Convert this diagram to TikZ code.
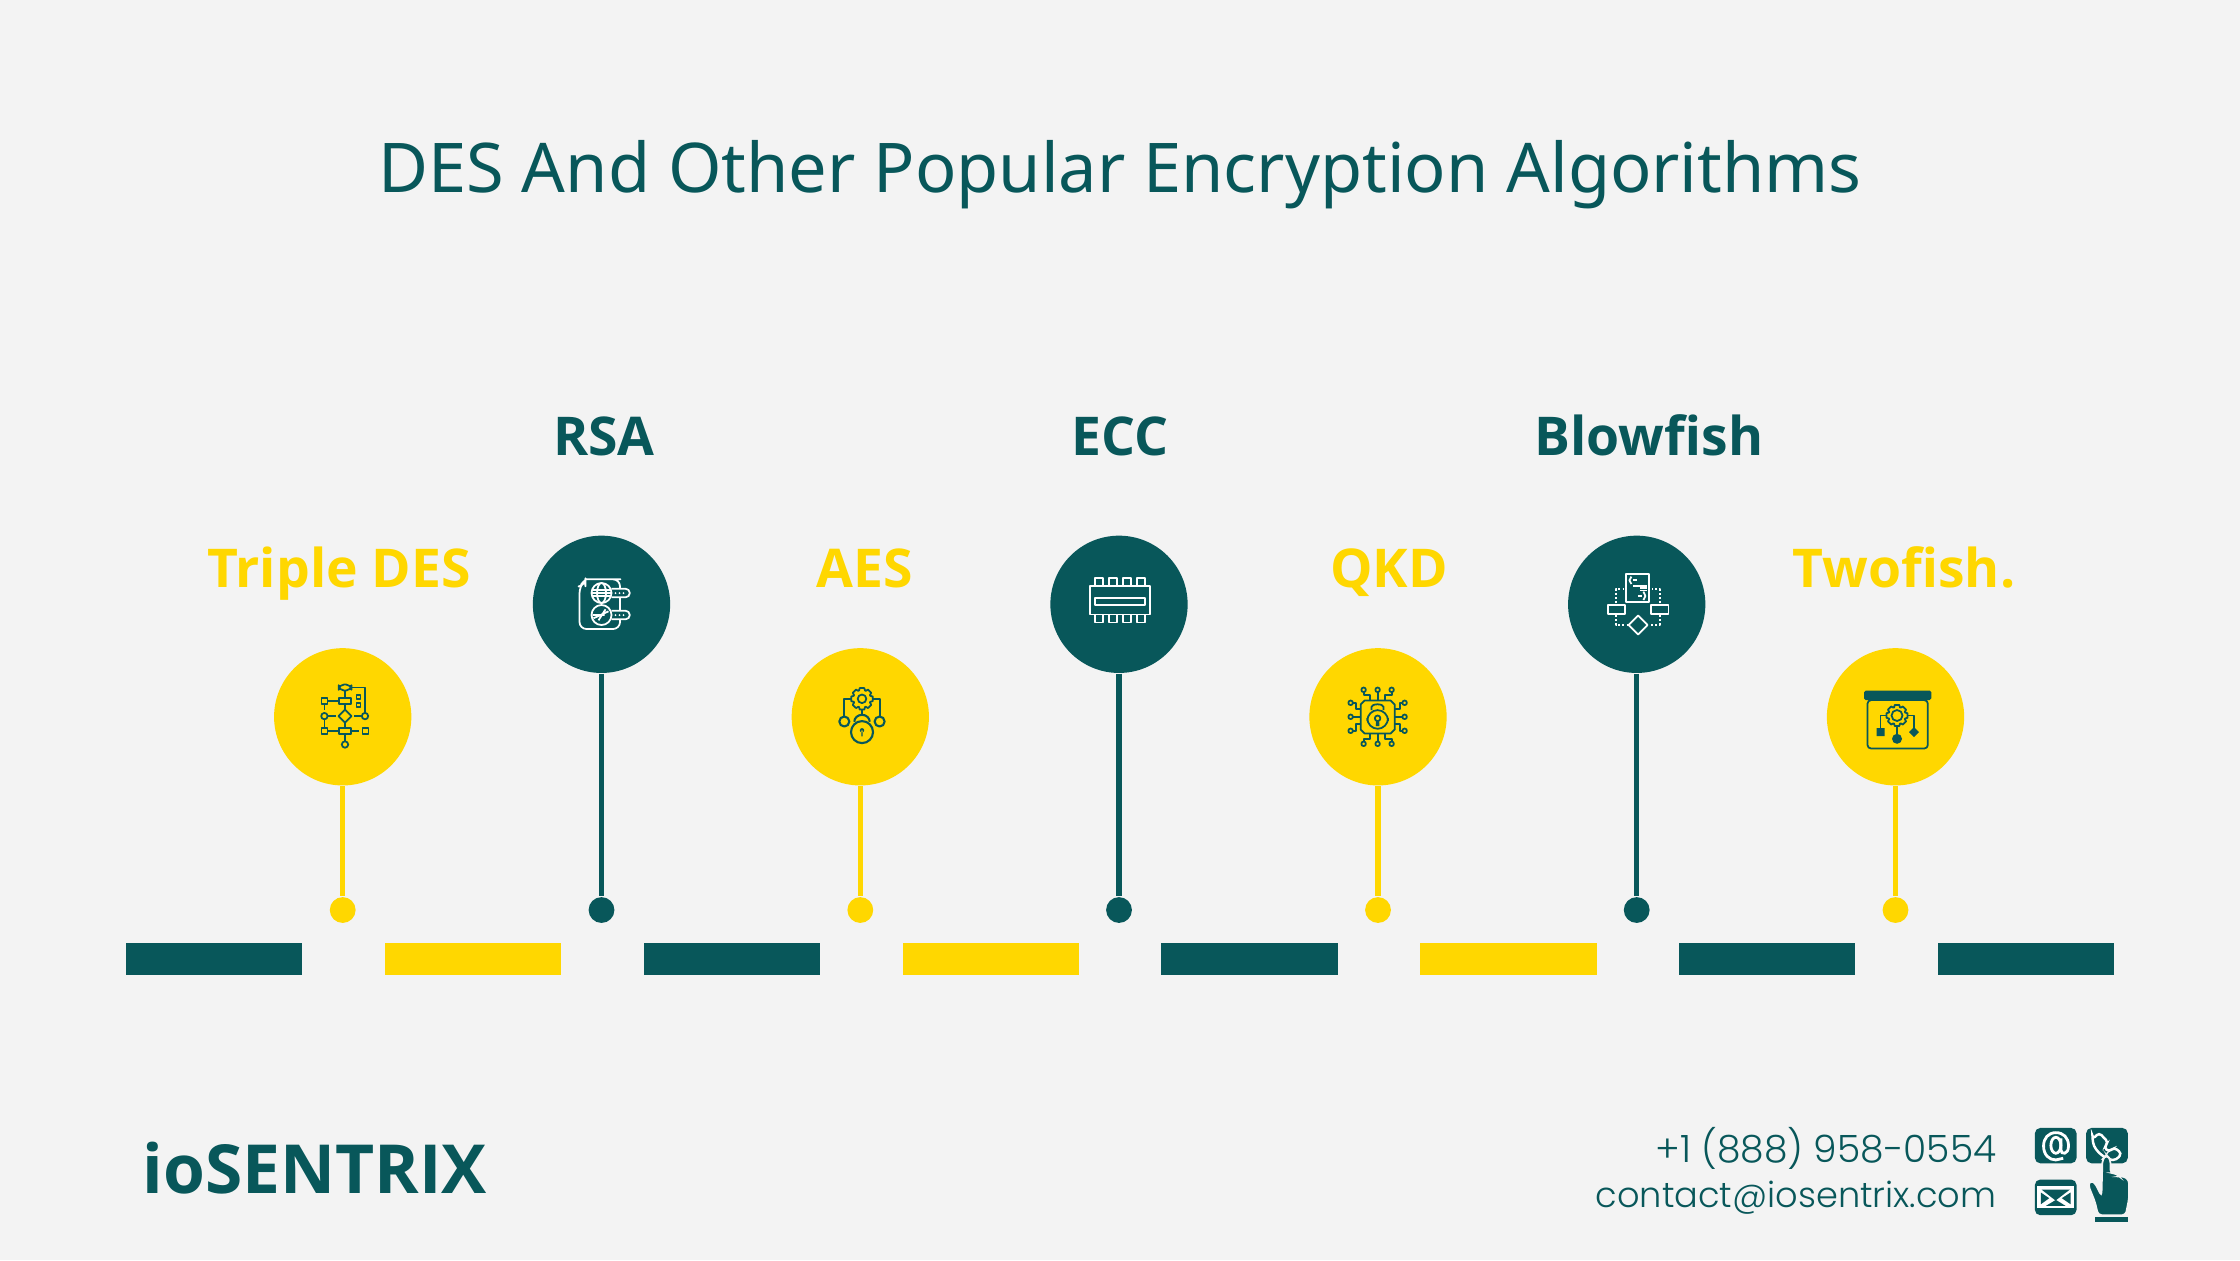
\documentclass[tikz,border=0pt]{standalone}
\usepackage{fontspec}
\setmainfont{Noto Sans}
\newfontfamily\labelfont{Open Sans}
\newfontfamily\contactfont{Poppins}[UprightFont=* Light]
\usetikzlibrary{positioning}

\definecolor{tealc}{HTML}{08575A}
\definecolor{yellowc}{HTML}{FFD700}
\definecolor{pagec}{HTML}{F3F3F3}

\newcommand{\gearat}[5]{% x, y, outer radius, inner radius, colour
  \begin{scope}[shift={(#1,#2)}]
    \draw[iconline,draw=#5] (-12:#3) \foreach \a in {0,45,...,315} {-- (\a-12:#3) -- (\a+12:#3) -- (\a+20:#3*0.8) -- (\a+25:#3*0.8)} -- cycle;
    \draw[iconline,draw=#5] (0,0) circle (#4);
  \end{scope}}

\tikzset{
  spot/.style={circle,inner sep=0pt,minimum size=13.72mm},
  dot/.style={circle,inner sep=0pt,minimum size=2.58mm},
  bar/.style={rectangle,inner sep=0pt,minimum width=17.6mm,minimum height=3.15mm},
  stem/.style={line width=1.45pt},
  iconline/.style={line width=0.5pt,line join=round},
  pics/flowicon/.style={code={
    \begin{scope}[iconline,draw=tealc]
    \draw[rounded corners=1.5] (-4,-32.3) rectangle (8.7,-26.3);
    \foreach \x/\y in {-4/-19, -4/11.3} \draw (\x,\y) rectangle +(12.6,6);
    \foreach \x/\y in {-21.3/-19, -21.3/11.3, 19.7/11.3} \draw (\x,\y) rectangle +(6,6);
    \foreach \y in {-22,-14} \draw (13.7,\y) rectangle +(4,4);
    \foreach \x/\y in {22.3/-0.7, -18.3/-0.7, 2.3/27.7} \draw (\x,\y) circle (3.2);
    \draw (2.3,-7.2) -- (8.8,-0.7) -- (2.3,5.8) -- (-4.2,-0.7) -- cycle;
    \draw (8.7,-29.3) -- (22.3,-29.3) -- (22.3,-3.9);
    \draw (19.1,-0.7) -- (11.7,-0.7);
    \draw (-15.1,-0.7) -- (-7,-0.7);
    \draw (-15.3,-16) -- (-4,-16) (-18.3,-13) -- (-18.3,-7);
    \draw (-18.3,2.5) -- (-18.3,11.3) (-15.3,14.3) -- (-4,14.3);
    \draw (8.6,14.3) -- (16.3,14.3);
    \draw (2.3,-26.3) -- (2.3,-19) (2.3,-13) -- (2.3,-7.2) (2.3,5.8) -- (2.3,11.3) (2.3,17.3) -- (2.3,24.5);
    \end{scope}}},
  pics/keyicon/.style={code={
    \begin{scope}[iconline,draw=white]
    \draw[rounded corners=2] (-16,-25) -- (12,-25) -- (18.5,-25) -- (18.5,24.7) -- (-22,24.7) -- (-22,-18) -- (-16,-25) -- (-16,-19) -- (-22,-18);
    \foreach \y in {-11.3,10.7} {
      \draw[fill=tealc] (10,\y-4.3) -- (24,\y-4.3) arc (-90:90:4.3) -- (10,\y+4.3);
      \foreach \x in {14,18,22} \fill[white] (\x,\y) circle (1);
      \draw[fill=tealc] (0,\y) circle (10);
    }
    \draw (0,-11.3) ellipse (4.5 and 10);
    \draw (-9.5,-14.5) -- (9.5,-14.5) (-9.5,-8) -- (9.5,-8) (-10,-11.3) -- (10,-11.3);
    \draw (-8,14) -- (7,7) (-9,10.7) -- (3,10.7) (-3,16) -- (4,5);
    \end{scope}}},
  pics/gearlockicon/.style={code={
    \gearat{1.7}{-18}{11}{4.3}{tealc}
    \begin{scope}[iconline,draw=tealc,line width=0.6pt]
    \draw (-16,0) -- (-16,-18) -- (-9.3,-18) (19.3,0) -- (19.3,-18) -- (12.7,-18);
    \foreach \x in {-16,19.3} \draw (\x,4.7) circle (5);
    \draw (1.7,-7) -- (1.7,-2);
    \draw (1.7,15.3) circle (11);
    \draw (-6,5) arc (180:360:7.7 and 7);
    \fill[tealc] (1.7,13.5) circle (2.2) (1,13.5) rectangle (2.4,19.5);
    \end{scope}}},
  pics/chipicon/.style={code={
    \begin{scope}[iconline,draw=white]
    \draw (-28.7,-18) rectangle (30.7,10.3);
    \draw (-24.3,-6.3) rectangle (26.3,1);
    \foreach \x in {-24,-10.3,3.7,17.7} \draw (\x,-18) -- (\x,-26) -- (\x+8.3,-26) -- (\x+8.3,-18) (\x,10.3) -- (\x,18.3) -- (\x+8.3,18.3) -- (\x+8.3,10.3);
    \end{scope}}},
  pics/cpulockicon/.style={code={
    \begin{scope}[iconline,draw=tealc]
    \draw (-13.3,-16.3) -- (12.7,-16.3) -- (16.7,-12.3) -- (16.7,12.7) -- (12.7,16.7) -- (-13.3,16.7) -- (-17.3,12.7) -- (-17.3,-12.3) -- cycle;
    \draw[rounded corners=3] (-10.7,-6.7) rectangle (10,12);
    \draw (-6.5,-6.7) -- (-6.5,-10) arc (180:360:6 and 2.5) -- (5.5,-6.7);
    \draw (-0.4,1.5) circle (2.8) (-1,4.3) -- (-1.4,8.5) -- (0.6,8.5) -- (0.2,4.3);
    \foreach \a in {0,90,180,270} {
      \begin{scope}[shift={(-0.4,0)},rotate=\a]
      \draw (0,-16.5) -- (0,-24.5);
      \draw (0,-27) circle (2.3);
      \draw (-7.5,-16.5) -- (-7.5,-22) -- (-14,-22) -- (-14,-24.7);
      \draw (-14,-27) circle (2.3);
      \draw (7.5,-16.5) -- (7.5,-22) -- (14,-22) -- (14,-24.7);
      \draw (14,-27) circle (2.3);
      \end{scope}
    }
    \end{scope}}},
  pics/codeflowicon/.style={code={
    \begin{scope}[iconline,draw=white]
    \draw[line width=0.6pt] (-10.3,-30.7) rectangle (12.7,-2.3);
    \draw (-5.3,-27.7) -- (-7.3,-24) -- (-5.3,-20.3) (6.7,-12.7) -- (8.7,-8.3) -- (6.7,-4.3);
    \draw (-3.3,-24.3) -- (0,-24.3) (-3.3,-18.3) -- (10,-18.3) (3.3,-16) -- (10,-16) (3.3,-13.7) -- (10,-13.7) (1.7,-8.3) -- (5,-8.3);
    \draw (-29,1) rectangle (-12,10) (14.3,1) rectangle (31.7,10);
    \draw (1.3,11.2) -- (10.8,20.7) -- (1.3,30.2) -- (-8.2,20.7) -- cycle;
    \draw[dash pattern=on 0.6pt off 0.6pt] (-21,-1) -- (-21,-15.3) -- (-12.7,-15.3) (23,-1) -- (23,-15.3) -- (15,-15.3) (-21,10.7) -- (-21,21) -- (-9.3,21) (23,10.7) -- (23,21) -- (12.7,21);
    \end{scope}}},
  pics/boardicon/.style={code={
    \fill[tealc,rounded corners=0.5] (-31.5,-26.3) rectangle (35.8,-16.7);
    \draw[iconline,tealc,rounded corners=1] (-28,-16.7) rectangle (32.3,31.7);
    \gearat{1.5}{-1.3}{10.8}{5.5}{tealc}
    \draw[iconline,tealc] (-8.8,-1.3) -- (-15,-1.3) -- (-15,11.3) (12.2,-1.3) -- (18.5,-1.3) -- (18.5,11.3) (1.5,9.7) -- (1.5,17);
    \fill[tealc] (-19,11.3) rectangle (-11,19.3) (1.5,22) circle (5) (18.5,10.3) -- (23.5,15.3) -- (18.5,20.3) -- (13.5,15.3) -- cycle;
    }},
}

\begin{document}
\begin{tikzpicture}[x=0.01cm,y=-0.01cm]
\fill[pagec] (0,0) rectangle (2240,1260);
\useasboundingbox (0,0) rectangle (2240,1260);
%\draw[help lines,step=100] (0,0) grid (2240,1260);

\node[text=tealc,anchor=base,font=\fontsize{19.5}{23}\selectfont] (title) at (1120,192) {DES And Other Popular Encryption Algorithms};

\foreach \x/\c/\n in {126/tealc/b1, 385/yellowc/b2, 644/tealc/b3, 903/yellowc/b4, 1161.5/tealc/b5, 1420.5/yellowc/b6, 1679/tealc/b7, 1938/tealc/b8}
  \node[bar,fill=\c] (\n) at (\x+88,959) {};

\foreach \x/\y/\c/\n in {342.7/716.8/yellowc/des, 601.5/604.3/tealc/rsa, 860.3/716.8/yellowc/aes, 1119/604.3/tealc/ecc, 1378/716.8/yellowc/qkd, 1636.7/604.3/tealc/blow, 1895.5/716.8/yellowc/two}
{
  \node[spot,fill=\c] (\n) at (\x,\y) {};
  \node[dot,fill=\c] (\n dot) at (\x,910) {};
  \draw[stem,\c] (\n) -- (\n dot);
}

\foreach \x/\y/\c/\n/\t in {339/587/yellowc/deslabel/Triple DES, 604/455/tealc/rsalabel/RSA, 865/587/yellowc/aeslabel/AES, 1120/455/tealc/ecclabel/ECC, 1389/587/yellowc/qkdlabel/QKD, 1649/455/tealc/blowlabel/Blowfish, 1904/587/yellowc/twolabel/Twofish.}
  \node[text=\c,anchor=base,font=\labelfont\fontsize{15.2}{18}\selectfont\bfseries] (\n) at (\x,\y) {\t};

\pic at (des) {flowicon};
\pic at (rsa) {keyicon};
\pic at (aes) {gearlockicon};
\pic at (ecc) {chipicon};
\pic at (qkd) {cpulockicon};
\pic at (blow) {codeflowicon};
\pic at (two) {boardicon};

\node[text=tealc,anchor=base west,inner sep=0pt,font=\labelfont\fontsize{19.25}{24}\selectfont\bfseries] (brand) at (142,1193) {ioSENTRIX};

\node[text=tealc,anchor=base east,inner sep=0pt,font=\contactfont\fontsize{10.7}{14}\selectfont] (phone) at (1997,1162.7) {+1 (888) 958-0554};
\node[text=tealc,anchor=base east,inner sep=0pt,font=\contactfont\fontsize{10}{14}\selectfont] (mail) at (1997,1207) {contact@iosentrix.com};

% contact icons, drawn at 3x from the corner of the block
\begin{scope}[shift={(1960,1110)},x=0.003333cm,y=-0.003333cm]
  \fill[tealc,rounded corners=1.5pt] (225,54) rectangle (350,160);
  \fill[tealc,rounded corners=1.5pt] (379,54) rectangle (504,160);
  \fill[tealc,rounded corners=1.5pt] (225,209) rectangle (350,316);
  \draw[white,line width=0.8pt] (288,106) ellipse (15 and 24);
  \draw[white,line width=0.8pt] (303,85) -- (303,120) .. controls (303,135) and (326,135) .. (326,108) .. controls (326,82) and (310,68) .. (288,68) .. controls (265,68) and (251,85) .. (251,108) .. controls (251,135) and (268,150) .. (288,150) -- (310,145);
  \draw[white,line width=0.7pt,rounded corners=1pt] (398,88) -- (418,68) -- (446,98) -- (432,112) -- (448,126) -- (462,112) -- (486,130) -- (470,150) .. controls (440,150) and (405,125) .. (398,88) -- cycle;
  \fill[white] (232,229) rectangle (343,295);
  \fill[tealc] (245,239) -- (330,239) -- (287,272) -- cycle;
  \fill[tealc] (243,248) -- (243,283) -- (268,265) -- cycle;
  \fill[tealc] (332,248) -- (332,283) -- (306,265) -- cycle;
  \fill[tealc] (258,288) -- (317,288) -- (288,270) -- cycle;
  \filldraw[fill=tealc,draw=pagec,line width=0.5pt,rounded corners=1pt] (428,148) -- (440,135) -- (452,148) -- (452,190) -- (470,190) -- (478,200) -- (490,198) -- (508,210) -- (508,265) -- (498,316) -- (415,316) -- (405,275) -- (385,225) -- (392,212) -- (405,218) -- (425,258) -- cycle;
  \fill[tealc] (407,321) rectangle (504,336);
\end{scope}
\end{tikzpicture}
\end{document}
